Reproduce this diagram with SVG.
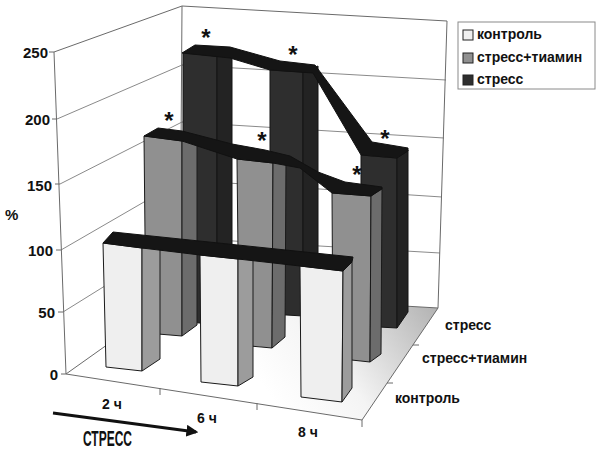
<svg xmlns="http://www.w3.org/2000/svg" width="600" height="454" viewBox="0 0 600 454">
<defs>
<linearGradient id="floorG" gradientUnits="userSpaceOnUse" x1="430" y1="305" x2="280" y2="410">
<stop offset="0" stop-color="#b5b5b5"/>
<stop offset="0.6" stop-color="#f4f4f4"/>
<stop offset="1" stop-color="#ffffff"/>
</linearGradient>
<marker id="arr" viewBox="0 0 10 10" refX="8" refY="5" markerWidth="4" markerHeight="4" orient="auto" markerUnits="strokeWidth">
<path d="M0,0 L10,5 L0,10 z" fill="#111"/>
</marker>
</defs>
<style>
.grid{stroke:#8a8a8a;stroke-width:1;fill:none}
.edge{stroke:#6a6a6a;stroke-width:1;fill:none}
.cf{fill:#efefef;stroke:#1a1a1a;stroke-width:1}
.cs{fill:#9c9c9c;stroke:#1a1a1a;stroke-width:1}
.tf{fill:#909090;stroke:#1a1a1a;stroke-width:1}
.ts{fill:#6c6c6c;stroke:#1a1a1a;stroke-width:1}
.sf{fill:#2e2e2e;stroke:#151515;stroke-width:1}
.ss{fill:#232323;stroke:#151515;stroke-width:1}
.rib{fill:#151515;stroke:#111;stroke-width:1;stroke-linejoin:round}
.lbl{font-family:"Liberation Sans",Arial,sans-serif;font-weight:bold;fill:#111}
.ax{font-size:15px;text-anchor:end}
.cat{font-size:14px}
.star{font-family:"Liberation Sans",Arial,sans-serif;font-weight:bold;font-size:24px;fill:#111;text-anchor:middle}
</style>

<g id="walls">
<polygon points="54,52 182,6 180,293 66,374" fill="#fff"/>
<polygon points="182,6 447,21 438,308 180,293" fill="#fff"/>
<polygon points="66,374 362,420 438,308 180,293" fill="url(#floorG)"/>
<g class="grid">
<line x1="57" y1="119" x2="182" y2="65"/>
<line x1="60" y1="184" x2="182" y2="122"/>
<line x1="61" y1="250" x2="182" y2="180"/>
<line x1="63" y1="312" x2="182" y2="238"/>
<line x1="182" y1="65" x2="446" y2="80"/>
<line x1="182" y1="122" x2="444" y2="138"/>
<line x1="182" y1="180" x2="442" y2="197"/>
<line x1="182" y1="238" x2="440" y2="253"/>
</g>
<g class="edge">
<polyline points="54,52 182,6 447,21 438,308"/>
<line x1="182" y1="6" x2="180" y2="293"/>
<line x1="54" y1="52" x2="66" y2="374"/>
<polyline points="66,374 180,293 438,308"/>
<polyline points="66,374 362,420 438,308"/>
<line x1="49" y1="52" x2="54" y2="52"/>
<line x1="52" y1="119" x2="57" y2="119"/>
<line x1="55" y1="184" x2="60" y2="184"/>
<line x1="56" y1="250" x2="61" y2="250"/>
<line x1="58" y1="312" x2="63" y2="312"/>
<line x1="61" y1="374" x2="66" y2="374"/>
<line x1="160" y1="388" x2="160" y2="395"/>
<line x1="257" y1="403" x2="257" y2="410"/>
<line x1="362" y1="420" x2="362" y2="427"/>
<line x1="387" y1="383" x2="393" y2="383"/>
<line x1="413" y1="345" x2="419" y2="345"/>
</g>
</g>

<g id="series-stress">
<polygon class="sf" points="183,53 217,56 217,324 183,322"/>
<polygon class="ss" points="217,56 232,50 232,316 217,324"/>
<polygon class="sf" points="270,70 303,72 303,316 270,314"/>
<polygon class="ss" points="303,72 318,66 318,308 303,316"/>
<polygon class="sf" points="361,155 397,158 397,328 361,326"/>
<polygon class="ss" points="397,158 408,150 408,312 397,328"/>
<polygon class="rib" points="182,53 195,45 230,47 280,61 315,65 372,142 408,148 408,151 397,158 361,155 313,73 270,70 230,58"/>
</g>

<g id="series-thiamine">
<polygon class="tf" points="144,136 182,141 182,336 146,333"/>
<polygon class="ts" points="182,141 197,137 197,325 182,336"/>
<polygon class="tf" points="237,159 273,163 272,348 239,345"/>
<polygon class="ts" points="273,163 286,159 285,337 272,348"/>
<polygon class="tf" points="332,193 371,196 370,362 333,358"/>
<polygon class="ts" points="371,196 382,188 381,354 370,362"/>
<polygon class="rib" points="144,136 158,128 182,131 232,144 265,150 290,156 318,172 345,182 382,187 382,189 371,196 332,193 300,168 273,163 237,159 182,141"/>
</g>

<g id="series-control">
<polygon class="cf" points="103,243 142,248 142,371 106,367"/>
<polygon class="cs" points="142,248 160,246 160,359 142,371"/>
<polygon class="cf" points="200,255 238,259 238,386 201,382"/>
<polygon class="cs" points="238,259 253,257 253,377 238,386"/>
<polygon class="cf" points="300,266 343,271 342,402 301,397"/>
<polygon class="cs" points="343,271 352,262 352,388 342,402"/>
<polygon class="rib" points="103,243 113,232 353,257 352,262 343,271 300,266 238,259 200,255 142,248"/>
</g>

<g id="stars">
<text class="star" x="206" y="46">*</text>
<text class="star" x="293" y="63">*</text>
<text class="star" x="169" y="129">*</text>
<text class="star" x="262" y="149">*</text>
<text class="star" x="385" y="147">*</text>
<text class="star" x="357" y="183">*</text>
</g>

<g id="y-axis-labels" class="lbl ax">
<text x="48" y="58">250</text>
<text x="50" y="125">200</text>
<text x="52" y="191">150</text>
<text x="53" y="256">100</text>
<text x="55" y="318">50</text>
<text x="58" y="380">0</text>
</g>
<text class="lbl" x="5" y="220" font-size="15">%</text>

<g id="x-axis-labels" class="lbl cat">
<text x="102" y="409">2 ч</text>
<text x="197" y="423">6 ч</text>
<text x="298" y="437">8 ч</text>
</g>

<g id="depth-labels" class="lbl cat">
<text x="445" y="330">стресс</text>
<text x="422" y="363">стресс+тиамин</text>
<text x="395" y="403">контроль</text>
</g>

<g id="legend">
<rect x="458" y="22" width="137" height="67" fill="#fff" stroke="#8a8a8a" stroke-width="1"/>
<rect x="463" y="30" width="10" height="10" fill="#efefef" stroke="#222"/>
<rect x="463" y="53" width="10" height="10" fill="#909090" stroke="#222"/>
<rect x="463" y="75" width="10" height="10" fill="#2e2e2e" stroke="#222"/>
<g class="lbl cat">
<text x="477" y="39">контроль</text>
<text x="477" y="62">стресс+тиамин</text>
<text x="477" y="84">стресс</text>
</g>
</g>

<g id="connectors">
<line x1="53" y1="413" x2="196" y2="432" stroke="#111" stroke-width="3" marker-end="url(#arr)"/>
</g>
<text class="lbl" x="83" y="446" font-size="31" font-variant="small-caps" textLength="49" lengthAdjust="spacingAndGlyphs">стресс</text>
</svg>
